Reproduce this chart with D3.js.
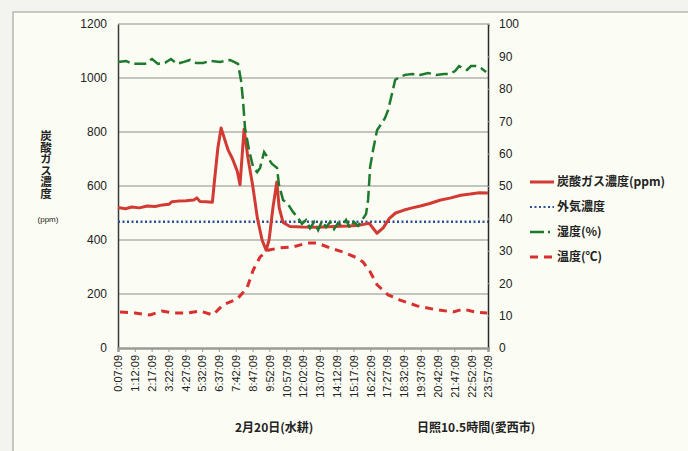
<!DOCTYPE html>
<html>
<head>
<meta charset="utf-8">
<script src="https://cdn.jsdelivr.net/npm/d3@7"></script>
<style>
  body { margin: 0; background: #f3f3ef; }
  svg { display: block; }
  .jp { font-family: "Noto Sans CJK JP", sans-serif; }
</style>
</head>
<body>
<svg id="chart" width="688" height="451"></svg>
<script>
// x tick labels (time of day)
const tickLabels = ['0:07:09', '1:12:09', '2:17:09', '3:22:09', '4:27:09', '5:32:09',
  '6:37:09', '7:42:09', '8:47:09', '9:52:09', '10:57:09', '12:02:09', '13:07:09',
  '14:12:09', '15:17:09', '16:22:09', '17:27:09', '18:32:09', '19:37:09', '20:42:09',
  '21:47:09', '22:52:09', '23:57:09']
const leftTicks = [0, 200, 400, 600, 800, 1000, 1200]
const rightTicks = [0, 10, 20, 30, 40, 50, 60, 70, 80, 90, 100]

// CO2 concentration (ppm), time in hours
const co2Hours = [0.12, 0.6, 1.0, 1.5, 2.0, 2.5, 3.0, 3.4, 3.6, 4.0, 4.5, 5.0, 5.2, 5.4, 5.8, 6.2,
  6.3, 6.55, 6.76, 6.95, 7.2, 7.5, 7.8, 7.98, 8.1, 8.24, 8.5, 8.8, 9.1, 9.4, 9.66, 9.85, 10.1,
  10.35, 10.5, 10.75, 11.2, 12.0, 13.0, 14.0, 15.0, 15.7, 16.3, 16.6, 16.8, 17.2, 17.6, 18.0,
  18.5, 19.0, 19.6, 20.2, 20.9, 21.5, 22.2, 22.8, 23.4, 23.95]
const co2Values = [520, 516, 522, 519, 526, 524, 530, 532, 542, 544, 545, 548, 556, 543, 542, 540,
  600, 740, 815, 780, 735, 700, 655, 605, 700, 810, 700, 600, 480, 400, 362, 400, 520,
  615, 520, 465, 450, 448, 447, 450, 452, 455, 462, 440, 425, 445, 480, 500,
  510, 518, 526, 535, 548, 555, 566, 570, 575, 574]

// outside air CO2 (ppm)
const outsideHours = [0.12, 23.95]
const outsideValues = [468, 468]

// humidity (%)
const humHours = [0.12, 0.64, 1.02, 1.86, 2.31, 2.70, 3.15, 3.53, 3.92, 4.37, 4.76, 5.15, 5.60,
  6.05, 6.69, 7.34, 7.59, 7.85, 8.04, 8.17, 8.30, 8.56, 8.82, 9.08, 9.27, 9.53, 9.79, 10.04,
  10.36, 10.49, 10.75, 11.07, 11.39, 11.72, 11.97, 12.23, 12.49, 12.75, 13.01, 13.26, 13.52,
  13.78, 14.04, 14.29, 14.55, 14.81, 15.07, 15.32, 15.58, 15.84, 16.10, 16.23, 16.36, 16.55,
  16.81, 17.07, 17.32, 17.52, 17.78, 17.97, 18.23, 18.61, 19.07, 19.58, 20.09, 20.61, 21.12,
  21.51, 21.83, 22.09, 22.34, 22.60, 22.86, 23.18, 23.5, 23.83]
const humValues = [88.3, 88.6, 87.7, 87.7, 89.2, 87.7, 88.0, 89.2, 87.7, 88.3, 88.9, 88.0, 88.0,
  88.6, 88.3, 88.9, 88.3, 87.7, 82.7, 76.5, 67.9, 61.1, 55.9, 54.3, 55.6, 60.5, 58.6, 56.8,
  55.6, 50.3, 45.7, 44.4, 42.0, 40.1, 38.3, 39.5, 37.0, 38.9, 36.4, 39.2, 37.3,
  38.9, 36.7, 38.6, 37.7, 39.5, 37.0, 38.9, 37.7, 39.5, 41.4, 45.7, 55.9, 61.1,
  67.3, 69.1, 71.0, 73.5, 78.7, 82.7, 83.6, 84.3, 84.6, 84.3, 84.9, 84.3, 84.6,
  84.6, 85.5, 87.0, 86.4, 85.8, 87.0, 87.0, 86.4, 85.2]

// temperature (°C)
const tempHours = [0.25, 1.21, 2.18, 2.95, 3.79, 4.63, 5.40, 6.24, 6.88, 7.79, 8.43, 8.82, 9.27,
  9.78, 10.56, 11.39, 12.30, 12.94, 13.78, 14.62, 15.52, 15.91, 16.36, 16.81, 17.52, 18.29,
  19.38, 20.42, 21.71, 22.35, 23.12, 23.9]
const tempValues = [11.1, 10.8, 10.2, 11.4, 10.8, 10.8, 11.4, 10.2, 13.3, 15.1, 18.5, 24.0, 28.1,
  30.2, 30.9, 31.2, 32.4, 32.4, 30.9, 29.6, 27.8, 26.5, 23.5, 19.5, 16.4, 14.8,
  13.0, 12.0, 11.1, 12.0, 11.1, 10.8]

const legendItems = ['炭酸ガス濃度(ppm)', '外気濃度', '湿度(%)', '温度(℃)']

const toHours = (s) => {
  const [h, m, sec] = s.split(':').map(Number)
  return h + m / 60 + sec / 3600
}

const svg = d3.select('#chart')
const margins = {top: 24, right: 200, bottom: 103, left: 118}
const width = 688 - margins.left - margins.right
const height = 451 - margins.top - margins.bottom

// frame
svg.append('rect').attr('x', 13).attr('y', 12).attr('width', 700).attr('height', 460)
  .attr('fill', '#fbfcf3').attr('stroke', '#b8b8b2').attr('stroke-width', 1.5)

const x = d3.scaleLinear()
  .domain([toHours(tickLabels[0]), toHours(tickLabels[tickLabels.length - 1])])
  .range([0, width])
const yL = d3.scaleLinear().domain([0, 1200]).range([height, 0])
const yR = d3.scaleLinear().domain([0, 100]).range([height, 0])

const g = svg.append('g').attr('transform', `translate(${margins.left}, ${margins.top})`)

// grid
g.selectAll('.grid').data(leftTicks.filter((d) => d > 0)).enter()
  .append('line').attr('class', 'grid')
  .attr('x1', 0).attr('x2', width)
  .attr('y1', (d) => yL(d)).attr('y2', (d) => yL(d))
  .attr('stroke', '#8e8e8a').attr('stroke-width', 1)

// left axis
const axL = g.append('g')
  .call(d3.axisLeft(yL).tickValues(leftTicks).tickFormat(d3.format('d'))
    .tickSize(0).tickPadding(11))
axL.select('.domain').attr('stroke', '#3a3a3a').attr('stroke-width', 1.5)
axL.selectAll('text').attr('font-family', 'Liberation Sans, Arial, sans-serif')
  .attr('font-size', 12).attr('fill', '#222')

// right axis
const axR = g.append('g').attr('transform', `translate(${width}, 0)`)
  .call(d3.axisRight(yR).tickValues(rightTicks).tickSize(2).tickPadding(9))
axR.select('.domain').attr('stroke', '#2a2a2a').attr('stroke-width', 1.5)
axR.selectAll('line').attr('stroke', '#aaa')
axR.selectAll('text').attr('font-family', 'Liberation Sans, Arial, sans-serif')
  .attr('font-size', 12).attr('fill', '#222')

// x axis
const axX = g.append('g').attr('transform', `translate(0, ${height})`)
  .call(d3.axisBottom(x).tickValues(tickLabels.map(toHours))
    .tickFormat((d, i) => tickLabels[i]).tickSize(4))
axX.select('.domain').attr('stroke', '#9a9a96').attr('stroke-width', 2.5)
axX.selectAll('.tick line').attr('stroke', '#9a9a96')
axX.selectAll('text')
  .attr('font-family', 'Liberation Sans, Arial, sans-serif').attr('font-size', 11)
  .attr('fill', '#222')
  .attr('transform', 'rotate(-90)')
  .attr('text-anchor', 'end')
  .attr('x', -7).attr('y', 0).attr('dy', '0.35em')

const lineOf = (hours, values, y) => d3.line()
  .x((d, i) => x(hours[i])).y((d) => y(d))(values)

// temperature
g.append('path').attr('d', lineOf(tempHours, tempValues, yR))
  .attr('fill', 'none').attr('stroke', '#d8302e').attr('stroke-width', 3)
  .attr('stroke-dasharray', '8,6')

// outside air
g.append('path').attr('d', lineOf(outsideHours, outsideValues, yL))
  .attr('fill', 'none').attr('stroke', '#2c4f98').attr('stroke-width', 2.5)
  .attr('stroke-dasharray', '2,2.5')

// CO2
g.append('path').attr('d', lineOf(co2Hours, co2Values, yL))
  .attr('fill', 'none').attr('stroke', '#d23a34').attr('stroke-width', 3)
  .attr('stroke-linejoin', 'round')

// humidity
g.append('path').attr('d', lineOf(humHours, humValues, yR))
  .attr('fill', 'none').attr('stroke', '#1d7a2c').attr('stroke-width', 2.5)
  .attr('stroke-dasharray', '12,5')

// y title (vertical, upright characters)
svg.append('text').attr('class', 'jp')
  .attr('x', 46).attr('y', 130)
  .attr('font-size', 11.5).attr('font-weight', 'bold').attr('fill', '#222')
  .style('writing-mode', 'vertical-rl')
  .style('text-orientation', 'upright')
  .text('炭酸ガス濃度')
svg.append('text').attr('x', 48).attr('y', 222).attr('text-anchor', 'middle')
  .attr('font-family', 'Liberation Sans, Arial, sans-serif').attr('font-size', 8)
  .attr('fill', '#222').text('(ppm)')

// legend
const legend = svg.append('g').attr('transform', 'translate(530, 182)')
const leg = legend.selectAll('g').data(legendItems).enter()
  .append('g').attr('transform', (d, i) => `translate(0, ${i * 25})`)
leg.append('text').attr('class', 'jp').attr('x', 27).attr('dy', '0.35em')
  .attr('font-size', 12).attr('font-weight', 'bold').attr('fill', '#222').text((d) => d)
const legStyles = [
  {stroke: '#d23a34', width: 3, dash: null},
  {stroke: '#2c4f98', width: 2, dash: '2,2.5'},
  {stroke: '#1d7a2c', width: 2.5, dash: '14,4,2,4'},
  {stroke: '#d8302e', width: 3, dash: '8,6'},
]
leg.append('line').attr('x1', 0).attr('x2', 24).attr('y1', 0).attr('y2', 0)
  .attr('stroke', (d, i) => legStyles[i].stroke)
  .attr('stroke-width', (d, i) => legStyles[i].width)
  .attr('stroke-dasharray', (d, i) => legStyles[i].dash)

// bottom notes
svg.append('text').attr('class', 'jp').attr('x', 235).attr('y', 432)
  .attr('font-size', 12).attr('font-weight', 'bold').attr('fill', '#222').text('2月20日(水耕)')
svg.append('text').attr('class', 'jp').attr('x', 417).attr('y', 432)
  .attr('font-size', 12).attr('font-weight', 'bold').attr('fill', '#222').text('日照10.5時間(愛西市)')
</script>
</body>
</html>
